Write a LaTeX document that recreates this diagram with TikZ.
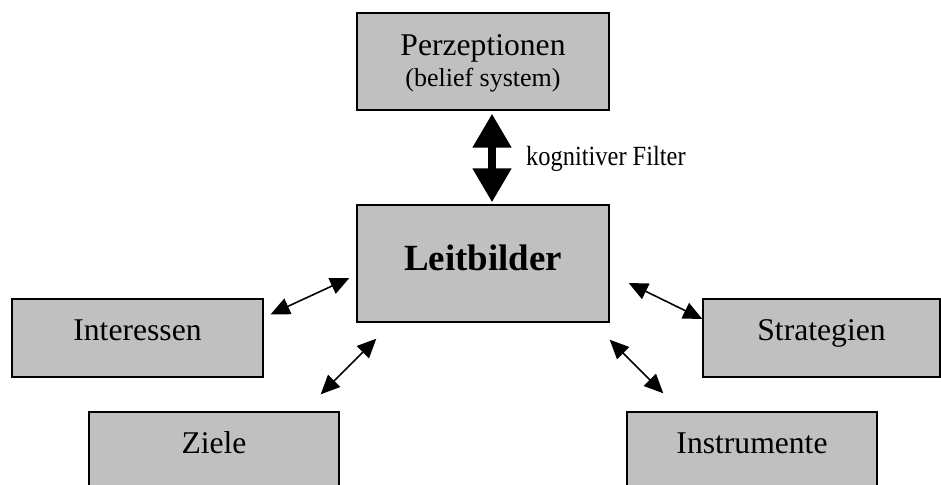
\documentclass[tikz,border=0pt]{standalone}
\usepackage{fontspec}
\setmainfont{Liberation Serif}
\newfontfamily\narrowserif[FakeStretch=0.88]{Liberation Serif}
\usetikzlibrary{arrows.meta,calc}
\definecolor{boxgray}{RGB}{192,192,192}

\begin{document}
\begin{tikzpicture}[x=0.2mm, y=-0.2mm, every node/.style={font=\fontsize{18pt}{17.6pt}\selectfont}]
  \tikzset{
      factor/.style={draw=black, line width=0.8pt, fill=boxgray, inner ysep=0pt, minimum width=50mm, text height=8.2mm, text depth=7.4mm},
      link/.style={{Triangle[length=3.8mm, width=3.4mm]}-{Triangle[length=3.8mm, width=3.4mm]}, line width=0.9pt},
      filter/.style={{Triangle[length=6.8mm, width=7.4mm]}-{Triangle[length=6.8mm, width=7.4mm]}, line width=1.6mm}
  }
  \useasboundingbox (0,0) rectangle (941,484);

  % centre and top
  \node[factor, minimum width=50.4mm, text height=14.6mm, text depth=4.8mm, align=center] (perz) at (483, 61.5)
      {Perzeptionen\\{\fontsize{14.8pt}{17.6pt}\selectfont (belief system)}};
  \node[factor, minimum width=50.4mm, text height=13mm, text depth=10.4mm, font=\fontsize{21pt}{25pt}\selectfont\bfseries] (leit) at (483, 263.5) {Leitbilder};

  % side boxes
  \node[factor, minimum width=50.2mm] (int)   at (137.5, 338) {Interessen};
  \node[factor, minimum width=47.4mm] (strat) at (821.5, 338) {Strategien};
  \node[factor] (ziele) at (214, 451) {Ziele};
  \node[factor] (instr) at (752, 451) {Instrumente};

  \draw[filter] ($(perz.south)+(9,3)$) -- ($(leit.north)+(9,-2)$);
  \node[anchor=base west, font=\narrowserif\fontsize{15.8pt}{18pt}\selectfont] (flabel) at (520, 165) {kognitiver Filter};

  \draw[link] ($(int.north east)+(7,16)$) -- ($(leit.west)+(-7,14.5)$);
  \draw[link] ($(ziele.north east)+(-19,-17)$) -- ($(leit.south west)+(20,16)$);
  \draw[link] ($(leit.east)+(19,19.5)$) -- ($(strat.west)+(0,-19)$);
  \draw[link] ($(leit.south east)+(0,17)$) -- ($(instr.north west)+(37,-18)$);
\end{tikzpicture}
\end{document}
